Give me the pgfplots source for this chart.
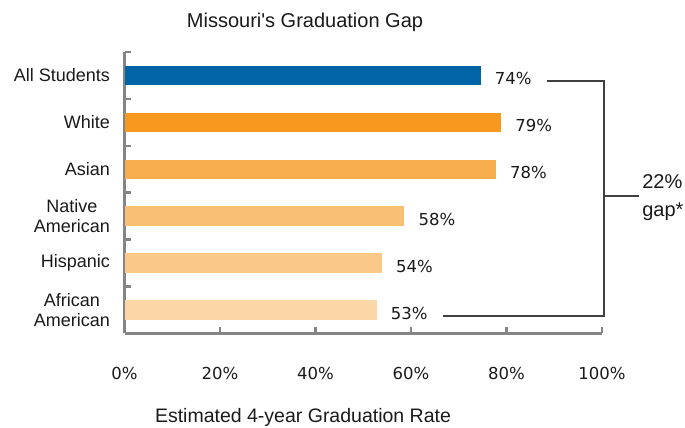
\documentclass[border=0pt]{standalone}
\usepackage{pgfplots}
\pgfplotsset{compat=1.18}
\usepackage{fontspec}
\setmainfont{Liberation Sans}
\newfontfamily\dejavu{DejaVu Sans}
\definecolor{cblue}{HTML}{0064A6}
\definecolor{cwhite}{HTML}{F7991F}
\definecolor{casian}{HTML}{F8AD4E}
\definecolor{cnative}{HTML}{F9BF72}
\definecolor{chisp}{HTML}{FAC98A}
\definecolor{cafr}{HTML}{FBD6A6}
\definecolor{axisgray}{HTML}{858585}
\definecolor{brgray}{HTML}{404040}
\definecolor{txt}{HTML}{1A1A1A}
\begin{document}
\begin{tikzpicture}
\path[use as bounding box] (0,0) rectangle (685pt,428pt);
\node[anchor=base, font=\fontsize{20}{22}\selectfont, text=txt] at (305pt,400pt) {Missouri\textquotesingle s Graduation Gap};
\node[anchor=base, font=\fontsize{19.5}{21}\selectfont, text=txt] at (303pt,5pt) {Estimated 4-year Graduation Rate};
\begin{axis}[
  at={(124.5pt,94.5pt)}, anchor=south west, scale only axis,
  width=477.5pt, height=281.5pt,
  xmin=0, xmax=100, ymin=-0.5, ymax=5.5,
  clip=false,
  axis x line*=bottom, axis y line*=left,
  axis line style={draw=axisgray, line width=2.7pt},
  xbar, bar width=19.5pt, bar shift=0pt,
  point meta=explicit symbolic,
  nodes near coords,
  nodes near coords style={anchor=west, inner sep=0pt, xshift=14pt, yshift=-3pt,
    font=\dejavu\fontsize{16.5}{18}\selectfont, text=txt},
  xtick={0,20,40,60,80,100},
  xticklabels={0\%,20\%,40\%,60\%,80\%,100\%},
  xticklabel style={font=\dejavu\fontsize{16.5}{18}\selectfont, anchor=base, yshift=-45.5pt, text=txt},
  ytick={0,1,2,3,4,5},
  yticklabels={African\\American, Hispanic, Native\\American, Asian, White, All Students},
  yticklabel style={align=center, font=\fontsize{18}{20}\selectfont, xshift=-11pt, text=txt},
  minor ytick={-0.5,0.5,1.5,2.5,3.5,4.5,5.5},
  tick align=inside,
  major tick length=6pt, minor tick length=6pt,
  every tick/.append style={draw=axisgray, line width=2.5pt},
  every minor tick/.append style={draw=axisgray, line width=2.5pt},
  every major y tick/.append style={draw=none},
]
\addplot[fill=cblue, draw=none] coordinates {(74.6,5) [74\%]};
\addplot[fill=cwhite, draw=none] coordinates {(78.9,4) [79\%]};
\addplot[fill=casian, draw=none] coordinates {(77.8,3) [78\%]};
\addplot[fill=cnative, draw=none] coordinates {(58.6,2) [58\%]};
\addplot[fill=chisp, draw=none] coordinates {(53.9,1) [54\%]};
\addplot[fill=cafr, draw=none] coordinates {(52.8,0) [53\%]};
\draw[brgray, line width=1.3pt] (axis cs:88.5,4.88) -- (axis cs:100.4,4.88) -- (axis cs:100.4,-0.13) -- (axis cs:66.7,-0.13);
\draw[brgray, line width=1.3pt] (axis cs:100.4,2.43) -- (axis cs:107.7,2.43);
\node[anchor=west, align=left, font=\fontsize{20}{28}\selectfont, text=txt, inner sep=0pt] at (axis cs:108.4,2.39) {22\%\\gap*};
\end{axis}
\end{tikzpicture}
\end{document}
